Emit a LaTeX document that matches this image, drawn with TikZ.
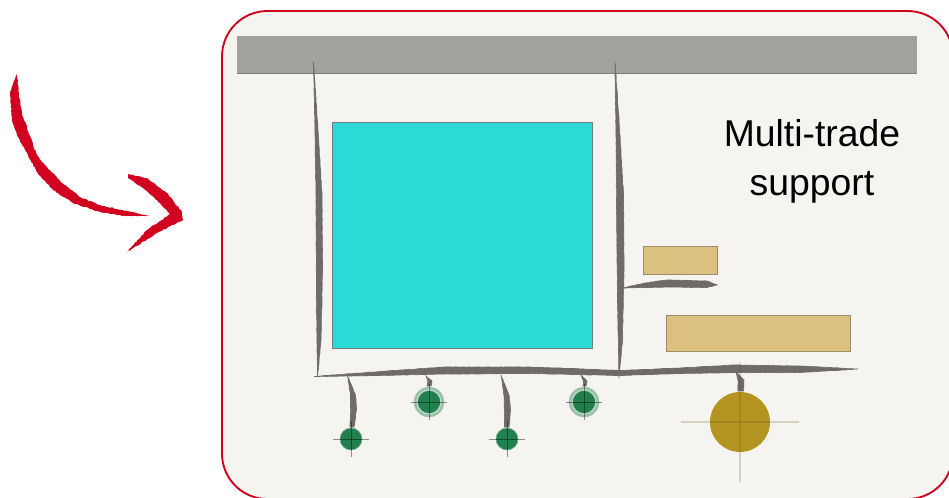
\documentclass[tikz,border=0pt]{standalone}
\usepackage{fontspec}
\setmainfont{Liberation Sans}
\usetikzlibrary{calc,decorations.pathmorphing}
\definecolor{panelred}{HTML}{D0021F}
\definecolor{panelbg}{HTML}{F5F4F0}
\definecolor{barGrey}{HTML}{A3A19B}
\definecolor{inkGrey}{HTML}{6E6B69}
\definecolor{padCyan}{HTML}{2CDAD8}
\definecolor{wireTan}{HTML}{DCC07F}
\definecolor{padGreen}{HTML}{22804F}
\definecolor{padGold}{HTML}{B59522}
\begin{document}
\begin{tikzpicture}[
  x=0.75pt, y=-0.75pt,
  panel/.style={draw=panelred, line width=1.4pt, fill=panelbg, rounded corners=34pt},
  brush/.style={fill=inkGrey, draw=inkGrey, line width=0.5pt, decorate, decoration={random steps, segment length=2pt, amplitude=0.15pt}},
  redbrush/.style={fill=panelred, draw=none, decorate, decoration={random steps, segment length=1.5pt, amplitude=0.4pt}},
  tan/.style={draw=black!25!wireTan!80!gray, line width=0.7pt, fill=wireTan, inner sep=0pt},
  pad/.style={circle, fill=padGreen, draw=padGreen!60!panelbg, line width=0.4pt, minimum size=16.5pt, inner sep=0pt},
  halo/.style={circle, fill=padGreen!45!panelbg, draw=padGreen!35!panelbg, line width=0.4pt, minimum size=22.5pt, inner sep=0pt},
  gold/.style={circle, fill=padGold, minimum size=45pt, inner sep=0pt},
  hair/.style={line width=0.6pt, draw=black, opacity=0.42},
  goldhair/.style={line width=0.8pt, draw=black!45!padGold, opacity=0.22}
]
\clip (0,0) rectangle (949,497);
\draw[panel] (222,11) rectangle (953,499);
\node[fill=barGrey, minimum width=510pt, minimum height=27.75pt, inner sep=0pt] (bar) at (577,54.5) {};
\draw[black!22!barGrey, line width=0.9pt] (bar.south west) -- (bar.south east);

% big pad and component body
\node[draw=gray!85!teal, line width=0.7pt, fill=padCyan, minimum width=195pt, minimum height=170pt, inner sep=0pt] (chip) at (462,235.5) {};
\node[tan, minimum width=55.5pt, minimum height=21.5pt] (tanA) at (680.5,260.5) {};
\node[tan, minimum width=138pt, minimum height=27.5pt] (tanB) at (758.5,333.5) {};

% brush lines
\fill[brush] (313.5,62) -- (315,130) -- (316,200) -- (316.5,300) -- (317.5,377)
  -- (321,340) -- (322.5,270) -- (322,195) -- (318,130) -- cycle;
\fill[brush] (615,62) -- (616,130) -- (616.5,200) -- (617.5,300) -- (619,378)
  -- (622.5,340) -- (624,270) -- (623.5,195) -- (619,120) -- cycle;
\fill[brush] (314,376.5) -- (380,375.5) -- (445,374) -- (530,373.5) -- (620,375.5)
  -- (680,373.5) -- (733,372.5) -- (800,372.5) -- (858,369)
  -- (800,366) -- (733,365) -- (680,368) -- (620,370.5)
  -- (530,367) -- (445,367) -- (380,371.5) -- cycle;
\fill[brush] (623,288) -- (667,287) -- (707,287.5) -- (717,285)
  -- (707,281) -- (667,280) -- (645,283) -- cycle;
\fill[brush] (347.5,376) -- (350.5,395) -- (350.5,415) -- (350,427) -- (354,427)
  -- (356.5,410) -- (355.5,395) -- cycle;
\fill[brush] (501,375) -- (504,395) -- (504.5,415) -- (504.5,427) -- (509,427)
  -- (510.5,410) -- (509,395) -- cycle;
\fill[brush] (426,376) -- (432,381) -- (431,386) -- (427,386) -- (428,381) -- cycle;
\fill[brush] (581,375) -- (587,381) -- (586,386) -- (583,386) -- (583.5,381) -- cycle;
\fill[brush] (736,372) -- (744,380) -- (743.5,391) -- (738,391) -- (738,380) -- cycle;

% pads
\node[halo] (haloB) at (429,402) {};
\node[halo] (haloD) at (584,402) {};
\node[pad] (padA) at (351,439) {};
\node[pad, draw=padGreen!25!panelbg, line width=1pt, minimum size=18pt] (padB) at (429,402) {};
\node[pad] (padC) at (507,439) {};
\node[pad, draw=padGreen!25!panelbg, line width=1pt, minimum size=18pt] (padD) at (584,402) {};
\node[gold] (padE) at (740,422) {};
\foreach \p in {padA,padB,padC,padD} {
  \draw[hair] ($(\p)+(-18,0)$) -- ($(\p)+(18,0)$);
  \draw[hair] ($(\p)+(0,-18)$) -- ($(\p)+(0,18)$);
}
\draw[goldhair] ($(padE)+(-59,0)$) -- ($(padE)+(59,0)$);
\draw[goldhair] ($(padE)+(0,-59)$) -- ($(padE)+(0,60)$);

\node[align=center, font=\fontsize{28}{36.5}\selectfont, inner sep=0pt] (label) at (812,161.5) {Multi-trade\\support};

% red arrow
\fill[redbrush] (17,73) -- (10,93) -- (12,120) -- (17,135) -- (25,150) -- (37,172) -- (53,190) -- (73,203)
  -- (100,212) -- (125,216) -- (150,216) -- (122,210) -- (100,205) -- (80,197) -- (60,181) -- (45,165)
  -- (37,155) -- (33,145) -- (27,127) -- (22,115) -- (19,93) -- cycle;
\fill[redbrush] (128,174) -- (147,178) -- (167,193) -- (182,212) -- (183,220) -- (157,233) -- (127,252)
  -- (147,230) -- (170,214) -- (160,203) -- (143,188) -- (128,178) -- cycle;
\end{tikzpicture}
\end{document}
